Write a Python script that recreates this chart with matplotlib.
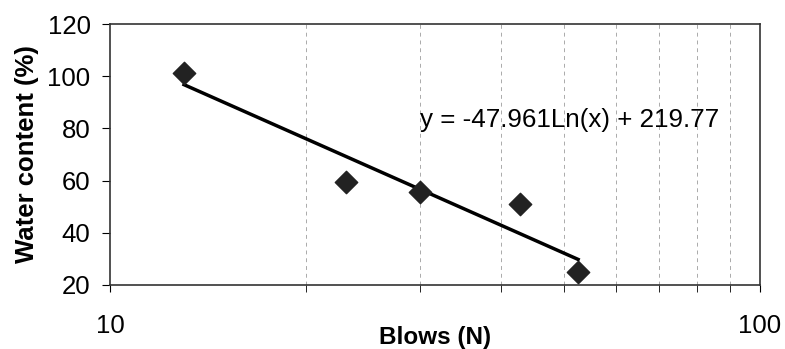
import matplotlib.pyplot as plt
import numpy as np
from matplotlib.ticker import FixedLocator, NullFormatter

plt.rcParams['font.family'] = ['Liberation Sans', 'DejaVu Sans']

# liquid limit test: number of blows vs water content
blows = [13.0, 23.1, 30.0, 42.7, 52.5]
water = [101.2, 59.6, 55.8, 51.0, 25.1]

# logarithmic trend line y = a*ln(x) + b
a, b = -47.961, 219.77
xfit = np.linspace(min(blows), max(blows), 100)
yfit = a * np.log(xfit) + b

fig = plt.figure(figsize=(7.85, 3.49), dpi=100)
ax = fig.add_axes([110/785, 1 - 285/349, 650/785, 261/349])

ax.plot(xfit, yfit, color='black', lw=2.5, zorder=2)
ax.scatter(blows, water, marker='D', s=130, color='#222222', zorder=3)

ax.set_xscale('log')
ax.set_xlim(10, 100)
ax.set_ylim(20, 120)
ax.set_yticks([20, 40, 60, 80, 100, 120])

ax.xaxis.set_major_locator(FixedLocator([10, 100]))
ax.xaxis.set_minor_locator(FixedLocator(range(20, 100, 10)))
ax.xaxis.set_minor_formatter(NullFormatter())
ax.set_xticklabels(['10', '100'])
ax.grid(True, which='minor', axis='x', color='#aaaaaa', ls=(0, (4, 4)), lw=0.7)

ax.tick_params(axis='y', direction='out', length=6, labelsize=18.5, pad=8)
ax.tick_params(axis='x', which='both', direction='out', length=5, labelsize=18.5, pad=16)
for s in ax.spines.values():
    s.set_color('#333333')
    s.set_linewidth(1.2)

ax.text(30, 83.2, 'y = -47.961Ln(x) + 219.77', fontsize=18.7, va='center', ha='left')

ax.set_xlabel('Blows (N)', fontsize=17.5, fontweight='bold', labelpad=-9)
ax.set_ylabel('Water content (%)', fontsize=18.5, fontweight='bold', labelpad=6)

fig.savefig('out.png', dpi=100)
